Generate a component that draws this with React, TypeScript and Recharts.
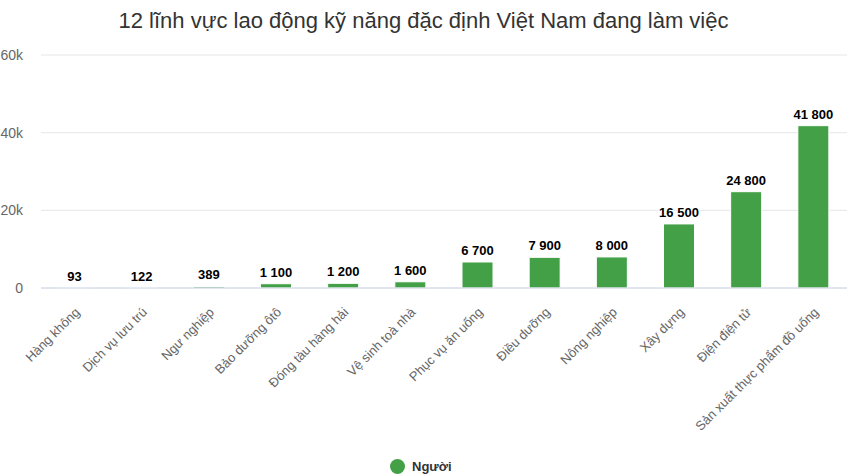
import React from "react";
import { BarChart, Bar, XAxis, YAxis, CartesianGrid, LabelList } from "recharts";

const categories = [
  "Hàng không",
  "Dịch vụ lưu trú",
  "Ngư nghiệp",
  "Bảo dưỡng ôtô",
  "Đóng tàu hàng hải",
  "Vệ sinh toà nhà",
  "Phục vụ ăn uống",
  "Điều dưỡng",
  "Nông nghiệp",
  "Xây dựng",
  "Điện điện tử",
  "Sản xuất thực phẩm đồ uống",
];
const values = [93, 122, 389, 1100, 1200, 1600, 6700, 7900, 8000, 16500, 24800, 41800];
const yTicks = [0, 20000, 40000, 60000];
const seriesName = "Người";
const title = "12 lĩnh vực lao động kỹ năng đặc định Việt Nam đang làm việc";

const data = categories.map((c, i) => ({ name: c, value: values[i] }));

const FONT = '"Liberation Sans", Arial, Helvetica, sans-serif';
const GREEN = "#43a047";

const fmtNum = (v: number) => String(v).replace(/\B(?=(\d{3})+(?!\d))/g, " ");

const XTick = (props: any) => {
  const { x, y, payload } = props;
  const ax = x + 6;
  const ay = y + 17;
  return (
    <text
      x={ax}
      y={ay}
      transform={`rotate(-45 ${ax} ${ay})`}
      textAnchor="end"
      fill="#666666"
      fontSize={13}
      fontFamily={FONT}
    >
      {payload.value}
    </text>
  );
};

const YTick = (props: any) => {
  const { y, payload } = props;
  const v = payload.value as number;
  return (
    <text x={23} y={y + 5} textAnchor="end" fill="#666666" fontSize={14} fontFamily={FONT}>
      {v === 0 ? "0" : `${v / 1000}k`}
    </text>
  );
};

const BarLabel = (props: any) => {
  const { x, y, width, value } = props;
  return (
    <text
      x={x + width / 2}
      y={y - 7}
      textAnchor="middle"
      fontSize={13}
      fontWeight="bold"
      fontFamily={FONT}
      fill="#000000"
      stroke="#ffffff"
      strokeWidth={2}
      paintOrder="stroke"
      strokeLinejoin="round"
    >
      {fmtNum(value)}
    </text>
  );
};

export default function App() {
  return (
    <div style={{ position: "relative", width: 847, height: 476, background: "#fff" }}>
      <style>{`body{margin:0}`}</style>
      <div
        style={{
          position: "absolute",
          top: 8,
          left: 0,
          width: 847,
          textAlign: "center",
          fontFamily: FONT,
          fontSize: 22,
          color: "#333333",
          lineHeight: "26px",
        }}
      >
        {title}
      </div>
      <BarChart
        width={847}
        height={476}
        data={data}
        margin={{ top: 55, right: 0, left: 0, bottom: 0 }}
        barCategoryGap="23%"
      >
        <CartesianGrid vertical={false} stroke="#e6e6e6" />
        <XAxis
          dataKey="name"
          interval={0}
          height={188}
          tick={<XTick />}
          tickLine={false}
          axisLine={{ stroke: "#ccd6eb" }}
        />
        <YAxis
          width={41}
          domain={[0, 60000]}
          ticks={yTicks}
          tick={<YTick />}
          axisLine={false}
          tickLine={false}
        />
        <Bar dataKey="value" name={seriesName} fill={GREEN} stroke="#ffffff" strokeWidth={1} barSize={31} isAnimationActive={false}>
          <LabelList dataKey="value" content={<BarLabel />} />
        </Bar>
      </BarChart>
      <div
        style={{
          position: "absolute",
          top: 458,
          left: 390,
          height: 16,
          display: "flex",
          alignItems: "center",
          fontFamily: FONT,
          fontSize: 13,
          fontWeight: "bold",
          color: "#333333",
        }}
      >
        <span
          style={{
            display: "inline-block",
            width: 15,
            height: 15,
            borderRadius: 8,
            background: GREEN,
            marginRight: 7,
          }}
        />
        <span>{seriesName}</span>
      </div>
    </div>
  );
}
